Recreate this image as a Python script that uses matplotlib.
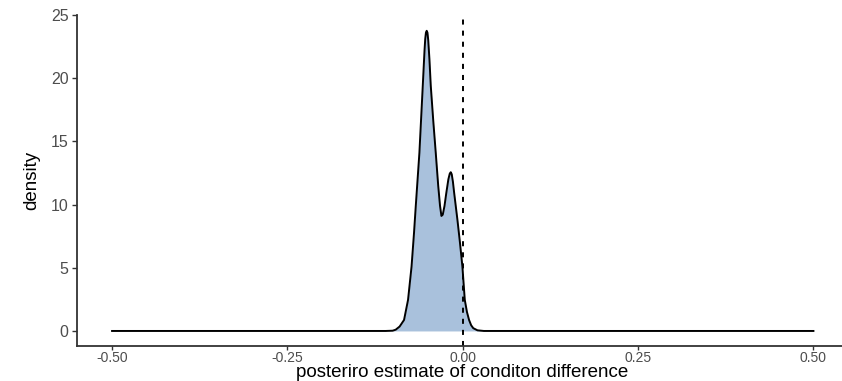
import numpy as np
import matplotlib
matplotlib.use("Agg")
import matplotlib.pyplot as plt

# posterior density of the condition difference
diff_x = [-0.500, -0.110, -0.100, -0.0956, -0.090, -0.0837, -0.078, -0.073,
          -0.0695, -0.067, -0.0618, -0.057, -0.0545, -0.0535, -0.0525,
          -0.0514, -0.0503, -0.0492, -0.0475, -0.0456, -0.042, -0.0385,
          -0.035, -0.0324, -0.0304, -0.0285, -0.026, -0.0235, -0.0205,
          -0.0185, -0.0171, -0.0157, -0.014, -0.0124, -0.010, -0.0076,
          -0.004, -0.0005, 0.0029, 0.006, 0.009, 0.012, 0.015, 0.021, 0.030,
          0.500]
density = [0.0, 0.0, 0.02, 0.1, 0.35, 0.87, 2.46, 5.1,
           7.75, 9.87, 14.1, 19.4, 22.2, 23.1, 23.6,
           23.75, 23.6, 23.0, 21.5, 19.4, 16.6, 14.1,
           11.5, 9.9, 9.1, 9.2, 9.9, 10.9, 12.0,
           12.45, 12.56, 12.4, 11.8, 11.0, 9.9, 8.8,
           7.0, 5.1, 2.46, 1.5, 0.87, 0.45, 0.22, 0.05, 0.0,
           0.0]

x_ticks = [-0.50, -0.25, 0.00, 0.25, 0.50]
x_tick_labels = ["-0.50", "-0.25", "0.00", "0.25", "0.50"]
y_ticks = [0, 5, 10, 15, 20, 25]

plt.rcParams['font.family'] = ['Liberation Sans', 'DejaVu Sans']

fig = plt.figure(figsize=(8.42, 3.81), dpi=100)
W, H = 842.0, 381.0
ax = fig.add_axes([77 / W, (H - 346) / H, (848.5 - 77) / W, (346 - 15) / H])

ax.fill_between(diff_x, 0, density, color="#A9C1DC", linewidth=0)
ax.plot(diff_x, density, color="black", linewidth=1.4, solid_joinstyle="round")
ax.axvline(0, color="black", linewidth=1.4, dashes=(2.6, 3.1))

ax.set_xlim(-0.55, 0.55)
ax.set_ylim(-1.19, 24.94)
ax.set_xticks(x_ticks)
ax.set_xticklabels(x_tick_labels)
ax.set_yticks(y_ticks)

for s in ["top", "right"]:
    ax.spines[s].set_visible(False)
for s in ["left", "bottom"]:
    ax.spines[s].set_color("#333333")
    ax.spines[s].set_linewidth(1.3)

ax.tick_params(axis="both", colors="#333333", length=3.5, width=1.0,
               labelcolor="#4D4D4D")
ax.tick_params(axis="x", labelsize=10, pad=0.8, length=2.8)
ax.tick_params(axis="y", labelsize=11.5, pad=2.5)

ax.set_xlabel("posteriro estimate of conditon difference", fontsize=13.5,
              color="black", va="bottom")
ax.xaxis.set_label_coords((462 - 77) / (848.5 - 77), -(381 - 346) / (346 - 15))
ax.set_ylabel("density", fontsize=13.5, color="black", labelpad=8)

fig.savefig("out.png", dpi=100)
